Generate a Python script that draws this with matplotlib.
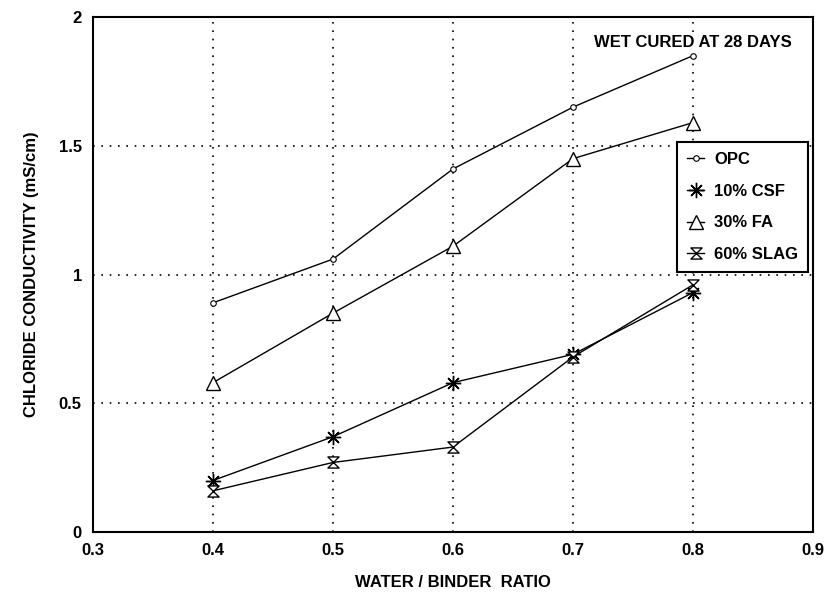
import matplotlib.pyplot as plt
from matplotlib.path import Path

plt.rcParams['font.family'] = ['Liberation Sans', 'DejaVu Sans']
plt.rcParams['font.weight'] = 'bold'

wb_ratio = [0.4, 0.5, 0.6, 0.7, 0.8]
opc = [0.89, 1.06, 1.41, 1.65, 1.85]
csf10 = [0.20, 0.37, 0.58, 0.69, 0.93]
fa30 = [0.58, 0.85, 1.11, 1.45, 1.59]
slag60 = [0.16, 0.27, 0.33, 0.68, 0.96]
series_names = ['OPC', '10% CSF', '30% FA', '60% SLAG']

# hourglass-ish marker for slag
hourglass = Path([(-1, 1), (1, 1), (0, 0), (1, -1), (-1, -1), (0, 0), (-1, 1)],
                 [Path.MOVETO, Path.LINETO, Path.LINETO, Path.LINETO,
                  Path.LINETO, Path.LINETO, Path.CLOSEPOLY])

fig = plt.figure(figsize=(8.25, 6.01), dpi=100)
ax = fig.add_axes([0.1127, 0.1148, 0.8728, 0.8569])

ax.plot(wb_ratio, opc, color='black', lw=1.0, marker='o', ms=4, mfc='white', mew=0.8, label=series_names[0])
ax.plot(wb_ratio, csf10, color='black', lw=1.0, marker=(8, 2, 0), ms=11, mew=1.0, label=series_names[1])
ax.plot(wb_ratio, fa30, color='black', lw=1.0, marker='^', ms=10, mfc='white', mew=1.0, label=series_names[2])
ax.plot(wb_ratio, slag60, color='black', lw=1.0, marker=hourglass, ms=8, mfc='white', mew=1.0, label=series_names[3])

ax.set_xlim(0.3, 0.9)
ax.set_ylim(0, 2)
ax.set_xticks([0.3, 0.4, 0.5, 0.6, 0.7, 0.8, 0.9])
ax.set_xticklabels(['0.3', '0.4', '0.5', '0.6', '0.7', '0.8', '0.9'])
ax.set_yticks([0, 0.5, 1, 1.5, 2])
ax.set_yticklabels(['0', '0.5', '1', '1.5', '2'])
ax.tick_params(length=0, labelsize=12, pad=8)
ax.grid(True, linestyle=(0, (1, 4)), color='black', lw=1.2)
for s in ax.spines.values():
    s.set_linewidth(1.5)

ax.set_xlabel('WATER / BINDER  RATIO', fontsize=12, fontweight='bold', labelpad=12)
ax.set_ylabel('CHLORIDE CONDUCTIVITY (mS/cm)', fontsize=12, fontweight='bold', labelpad=14)

ax.text(0.97, 0.965, 'WET CURED AT 28 DAYS', transform=ax.transAxes, ha='right', va='top', fontsize=12,
        bbox=dict(facecolor='white', edgecolor='none', pad=1))

leg = ax.legend(loc='upper right', bbox_to_anchor=(0.993, 0.757), borderaxespad=0, fontsize=12,
                frameon=True, fancybox=False, edgecolor='black', framealpha=1, handlelength=1.0,
                borderpad=0.6, labelspacing=1.0, handletextpad=0.6)
leg.get_frame().set_linewidth(1.5)

fig.savefig('out.png', dpi=100)
